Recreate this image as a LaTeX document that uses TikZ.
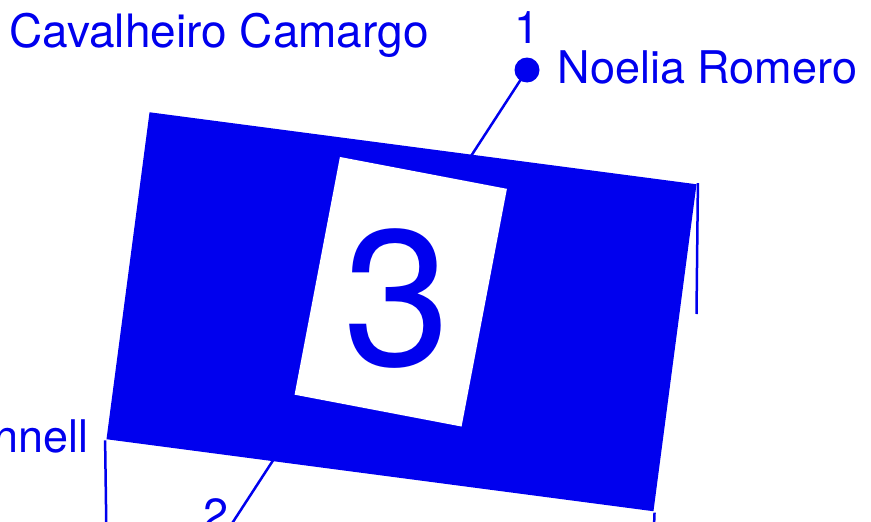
\documentclass[tikz,border=0pt]{standalone}
\usepackage{fontspec}
\setmainfont{TeX Gyre Heros}
\definecolor{plateblue}{RGB}{0,0,238}
\begin{document}
\begin{tikzpicture}[x=1pt,y=-1pt,line width=2.5pt,line cap=butt,
 font=\fontsize{45}{54}\selectfont,color=plateblue,
 lbl/.style={inner sep=0pt,text=plateblue}]
\useasboundingbox (0,0) rectangle (871,522);
\coordinate (lineEnd) at (218,545);
\node[circle,fill=plateblue,inner sep=0pt,minimum size=25pt] (dotA) at (527,70) {};
\draw (dotA.center)--(lineEnd);
\node[fill=plateblue,inner sep=0pt,minimum width=551.7pt,minimum height=329.8pt,
 rotate=-7.5] (board) at (401.5,311.75) {};
\coordinate (rEnd) at (696.5,314);
\coordinate (lEnd) at (106.5,540);
\coordinate (bEnd) at (653.5,540);
\draw (board.north east)--(rEnd);
\draw (board.south west)--(lEnd);
\draw (board.south east)--(bEnd);
\node[fill=white,inner sep=0pt,minimum width=170pt,minimum height=242pt,
 rotate=-10.8] (card) at (400.75,291.75) {};
\node[lbl,anchor=base,font=\fontsize{193}{200}\selectfont] (num) at (397,365) {3};
\node[lbl,anchor=base west,font=\fontsize{46}{54}\selectfont] (nameA) at (8,47.5) {Cavalheiro Camargo};
\node[lbl,anchor=base west] (nameB) at (556.5,83) {Noelia Romero};
\node[lbl,anchor=base] (one) at (527,43) {1};
\node[lbl,anchor=base east] (nameC) at (90,452) {nnell};
\node[lbl,anchor=base] (two) at (216,530) {2};
\end{tikzpicture}
\end{document}
